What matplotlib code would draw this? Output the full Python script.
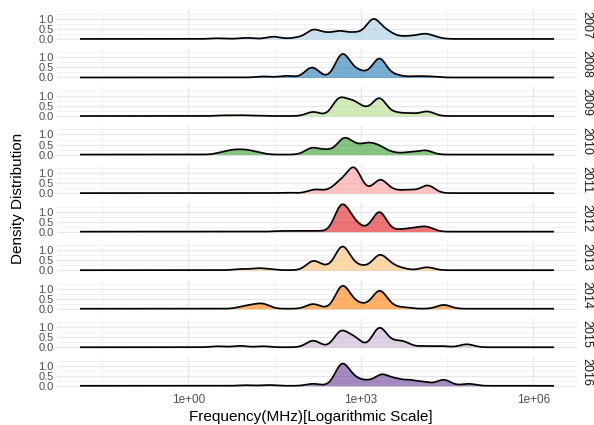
import numpy as np
import matplotlib.pyplot as plt

plt.rcParams['font.family'] = ['Liberation Sans', 'DejaVu Sans']

years = [2007, 2008, 2009, 2010, 2011, 2012, 2013, 2014, 2015, 2016]

# frequencies seen each year (MHz) and how many times each one was seen
freq_2007 = [3.2, 10, 30, 80, 148, 251, 427, 741, 1122, 1660, 2818, 5012, 7943, 13183, 19953]
count_2007 = [3, 5, 10, 6, 38, 20, 30, 22, 12, 80, 30, 8, 10, 20, 5]

freq_2008 = [20, 50, 141, 468, 708, 1047, 2089, 3981, 8913, 15849]
count_2008 = [5, 8, 48, 105, 25, 20, 90, 12, 6, 5]

freq_2009 = [4, 7.9, 15.8, 148, 417, 708, 1122, 2089, 3981, 7079, 14125]
count_2009 = [3, 4, 2, 20, 80, 60, 28, 85, 15, 12, 22]

freq_2010 = [4, 6.3, 10, 15.8, 141, 251, 501, 794, 1318, 2089, 3548, 7079, 13183]
count_2010 = [9, 16, 16, 8, 28, 18, 65, 30, 40, 30, 8, 10, 18]

freq_2011 = [50, 158, 282, 447, 759, 1259, 2188, 3981, 7079, 14454]
count_2011 = [2, 17, 10, 50, 120, 8, 65, 12, 15, 38]

freq_2012 = [40, 79, 158, 457, 708, 1122, 2089, 3981, 6310, 9550, 14125]
count_2012 = [3, 4, 4, 120, 45, 10, 95, 6, 10, 12, 20]

freq_2013 = [7.9, 15.8, 25, 148, 251, 468, 708, 1122, 2089, 3162, 5012, 14125]
count_2013 = [5, 8, 4, 40, 12, 100, 20, 13, 62, 20, 8, 13]

freq_2014 = [8.9, 13.2, 20, 148, 468, 708, 1122, 2089, 3162, 5623, 27542]
count_2014 = [8, 12, 20, 22, 100, 25, 15, 80, 12, 6, 18]

freq_2015 = [3.2, 7.9, 20, 148, 447, 759, 2089, 3548, 5495, 12589, 25119, 69183]
count_2015 = [5, 7, 5, 33, 76, 45, 95, 20, 25, 6, 6, 15]

freq_2016 = [10, 25, 148, 468, 759, 1259, 2291, 3981, 7079, 12589, 27542, 74131]
count_2016 = [3, 4, 10, 105, 30, 20, 52, 30, 25, 18, 30, 10]

# lowest and highest frequency in the whole set (MHz)
freq_range = [0.0135, 2.2e6]

colors = ['#a6cee3', '#1f78b4', '#b2df8a', '#33a02c', '#fb9a99',
          '#e31a1c', '#fdbf6f', '#ff7f00', '#cab2d6', '#6a3d9a']

samples = [(freq_2007, count_2007), (freq_2008, count_2008), (freq_2009, count_2009),
           (freq_2010, count_2010), (freq_2011, count_2011), (freq_2012, count_2012),
           (freq_2013, count_2013), (freq_2014, count_2014), (freq_2015, count_2015),
           (freq_2016, count_2016)]

bw = 0.12  # kernel width in decades

def density(freqs, counts, grid):
    # weighted gaussian kde on log10(frequency)
    mu = np.log10(np.array(freqs, dtype=float))
    w = np.array(counts, dtype=float)
    z = (grid[:, None] - mu[None, :]) / bw
    k = np.exp(-0.5 * z ** 2) / (bw * np.sqrt(2 * np.pi))
    return (k * w).sum(axis=1) / w.sum()

grid = np.linspace(np.log10(freq_range[0]), np.log10(freq_range[1]), 1200)
dens = [density(f, c, grid) for f, c in samples]
ymax = max(d.max() for d in dens)

lo, hi = grid[0], grid[-1]
pad = (hi - lo) * 0.05

fig, axes = plt.subplots(10, 1, figsize=(5.94, 4.25), dpi=100, sharex=True)
fig.subplots_adjust(left=0.0965, right=0.971, top=0.976, bottom=0.089, hspace=0.28)

for ax, yr, d, col in zip(axes, years, dens, colors):
    x = 10 ** grid
    ax.fill_between(x, d, 0, color=col, alpha=0.6, lw=0, zorder=2)
    ax.plot(x, d, color='black', lw=1.25, zorder=3)
    ax.set_xscale('log')
    ax.set_xlim(10 ** (lo - pad), 10 ** (hi + pad))
    ax.set_ylim(-0.05 * ymax, ymax * 1.05)
    ax.set_yticks([0, 0.5, 1.0])
    ax.set_yticklabels(['0.0', '0.5', '1.0'])
    ax.set_yticks([0.25, 0.75, 1.25], minor=True)
    ax.set_xticks([1, 1e3, 1e6])
    ax.set_xticks([10 ** -1.5, 10 ** 1.5, 10 ** 4.5], minor=True)
    ax.xaxis.set_minor_formatter(plt.NullFormatter())
    ax.grid(which='major', color='#e6e6e6', lw=0.9, zorder=0)
    ax.grid(which='minor', color='#f0f0f0', lw=0.6, zorder=0)
    ax.set_axisbelow(True)
    for s in ax.spines.values():
        s.set_visible(False)
    ax.tick_params(which='both', length=0, labelsize=8, labelcolor='#4d4d4d', pad=2.5)
    ax.text(1.006, 0.5, str(yr), transform=ax.transAxes, rotation=-90,
            ha='left', va='center', fontsize=9, color='#1a1a1a')

axes[-1].set_xticklabels(['1e+00', '1e+03', '1e+06'])
axes[-1].tick_params(axis='x', labelsize=8.5, pad=5)

fig.text(0.523, 0.018, 'Frequency(MHz)[Logarithmic Scale]', ha='center', va='center', fontsize=11)
fig.text(0.03, 0.534, 'Density Distribution', rotation=90, ha='center', va='center', fontsize=11)

plt.savefig('out.png', dpi=100)
